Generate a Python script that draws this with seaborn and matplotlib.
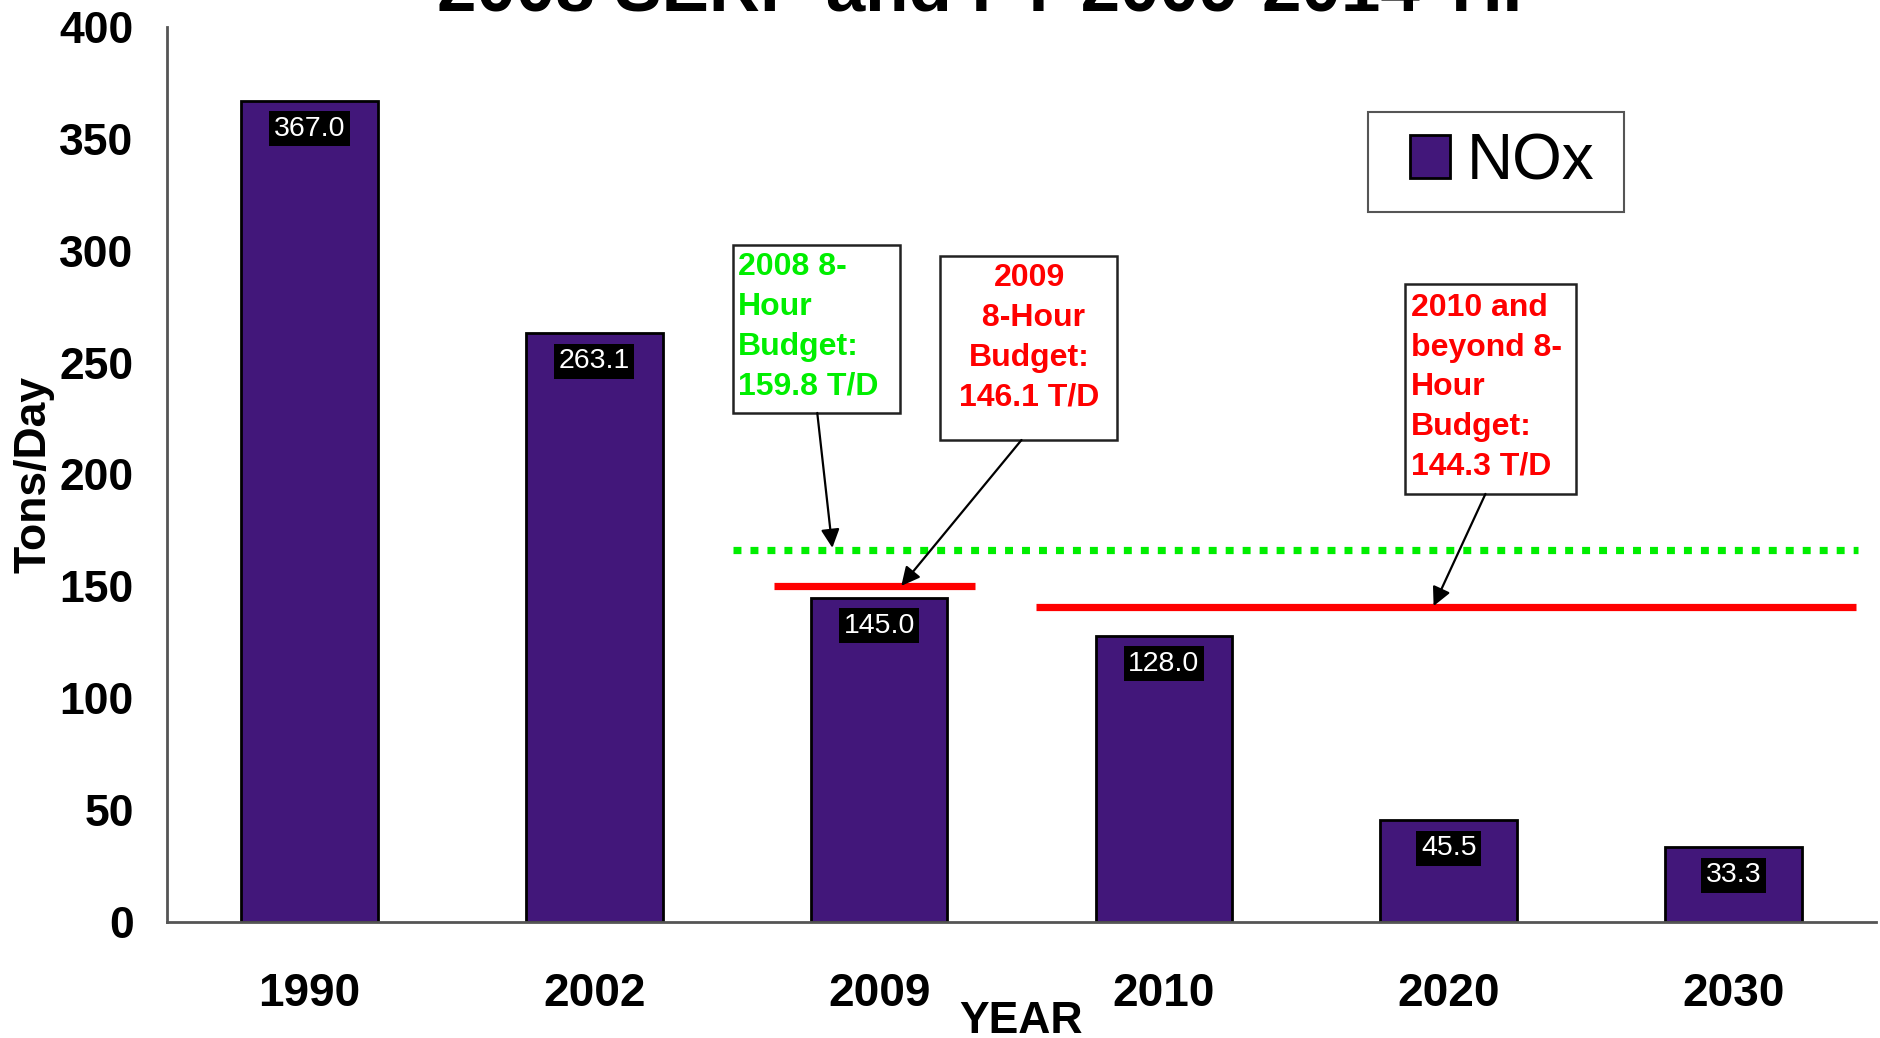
import matplotlib
matplotlib.use("Agg")
import matplotlib.pyplot as plt
import seaborn as sns
import pandas as pd
from matplotlib.patches import Patch, Rectangle

# ---- data ----
years = ["1990", "2002", "2009", "2010", "2020", "2030"]
nox = [367.0, 263.1, 145.0, 128.0, 45.5, 33.3]
bar_labels = ["367.0", "263.1", "145.0", "128.0", "45.5", "33.3"]
y_ticks = [0, 50, 100, 150, 200, 250, 300, 350, 400]

# budget lines as drawn in the picture
green_level = 166.3
red2009_level = 150.0
red2010_level = 140.6

title_text = "2008 SERP and FY 2009-2014 TIP"
green_note = "2008 8-\nHour\nBudget:\n159.8 T/D"
red2009_note = "2009\n 8-Hour\nBudget:\n146.1 T/D"
red2010_note = "2010 and\nbeyond 8-\nHour\nBudget:\n144.3 T/D"

sns.set_style("white")
plt.rcParams["font.family"] = ["Liberation Sans", "DejaVu Sans"]
plt.rcParams["text.color"] = "black"
plt.rcParams["axes.labelcolor"] = "black"
plt.rcParams["xtick.color"] = "black"
plt.rcParams["ytick.color"] = "black"

df = pd.DataFrame({"year": years, "nox": nox})

fig = plt.figure(figsize=(18.81, 10.38), dpi=100)
ax = fig.add_axes([0.0888, 0.1118, 0.9085, 0.8622])

BAR = "#42177a"
sns.barplot(data=df, x="year", y="nox", color=BAR, saturation=1, width=0.48,
            edgecolor="black", linewidth=2, ax=ax, zorder=2)

ax.set_xlim(-0.5, 5.5)
ax.set_ylim(0, 400)
ax.set_yticks(y_ticks)
ax.set_yticklabels([str(v) for v in y_ticks], fontsize=32, fontweight="bold")
ax.set_xticks(range(len(years)))
ax.set_xticklabels(years, fontsize=33, fontweight="bold")
ax.set_xticks([i + 0.5 for i in range(len(years))], minor=True)
ax.tick_params(axis="x", which="major", length=0, pad=36)
ax.tick_params(axis="x", which="minor", length=13, direction="in", width=1.2, color="#333333")
ax.tick_params(axis="y", which="major", length=13, direction="out", width=1.2, color="#333333", pad=11)
ax.set_xlabel("YEAR", fontsize=32, fontweight="bold", labelpad=-11)
ax.set_ylabel("Tons/Day", fontsize=32, fontweight="bold")
ax.yaxis.set_label_coords(-0.066, 0.5)
for s in ["top", "right"]:
    ax.spines[s].set_visible(False)
for s in ["left", "bottom"]:
    ax.spines[s].set_color("#555555")
    ax.spines[s].set_linewidth(2)

# bar value labels
for p, lab in zip(ax.patches, bar_labels):
    ax.annotate(lab, (p.get_x() + p.get_width() / 2, p.get_height()),
                xytext=(0, -28), textcoords="offset pixels",
                ha="center", va="center", color="white", fontsize=20.5,
                bbox=dict(boxstyle="square,pad=0.16", fc="black", ec="none"), zorder=4)

# budget lines
ax.plot([1.488, 5.436], [green_level] * 2, color="#00ee00", lw=5.2,
        linestyle=(0, (1.1, 1.25)), solid_capstyle="butt", dash_capstyle="butt", zorder=3)
ax.plot([1.632, 2.338], [red2009_level] * 2, color="#ff0000", lw=5.2,
        solid_capstyle="butt", zorder=3)
ax.plot([2.552, 5.43], [red2010_level] * 2, color="#ff0000", lw=5.2,
        solid_capstyle="butt", zorder=3)

# annotation boxes
def note_box(x0, x1, y0, y1):
    ax.add_patch(Rectangle((x0, y0), x1 - x0, y1 - y0, fc="white", ec="#222222",
                           lw=1.8, zorder=5))

LS = 1.42
note_box(1.488, 2.075, 227.5, 302.6)
ax.text(1.506, 266.0, green_note, color="#00ee00", fontsize=23, fontweight="bold",
        ha="left", va="center", linespacing=LS, zorder=6)

note_box(2.215, 2.837, 215.4, 297.7)
ax.text(2.528, 261.0, red2009_note, color="#ff0000", fontsize=23, fontweight="bold",
        ha="center", va="center", multialignment="center", linespacing=LS, zorder=6)

note_box(3.845, 4.446, 191.3, 285.1)
ax.text(3.866, 239.0, red2010_note, color="#ff0000", fontsize=23, fontweight="bold",
        ha="left", va="center", linespacing=LS, zorder=6)

arrow = dict(arrowstyle="-|>", color="black", lw=1.6, mutation_scale=28, shrinkA=0, shrinkB=0)
ax.annotate("", xy=(1.836, 167.2), xytext=(1.783, 227.5), arrowprops=arrow, zorder=6)
ax.annotate("", xy=(2.078, 150.2), xytext=(2.500, 215.4), arrowprops=arrow, zorder=6)
ax.annotate("", xy=(3.947, 141.2), xytext=(4.129, 191.3), arrowprops=arrow, zorder=6)

# legend: frame drawn as its own rectangle, entry placed inside
ax.add_patch(Rectangle((0.7028, 0.793), 0.8526 - 0.7028, 0.905 - 0.793,
                       transform=ax.transAxes, fc="white", ec="#555555", lw=1.5, zorder=5))
handle = Patch(facecolor=BAR, edgecolor="black", linewidth=2)
leg = ax.legend([handle], ["NOx"], loc="center left", bbox_to_anchor=(0.7273, 0.849),
                fontsize=46, frameon=False, borderpad=0,
                handlelength=0.63, handleheight=0.67, handletextpad=0.26,
                borderaxespad=0)
leg.set_zorder(6)

# title (cut off at the top, as in the reference)
fig.text(0.528, 0.990, title_text, ha="center", va="baseline", fontsize=51, fontweight="bold")

fig.savefig("out.png", dpi=100)
